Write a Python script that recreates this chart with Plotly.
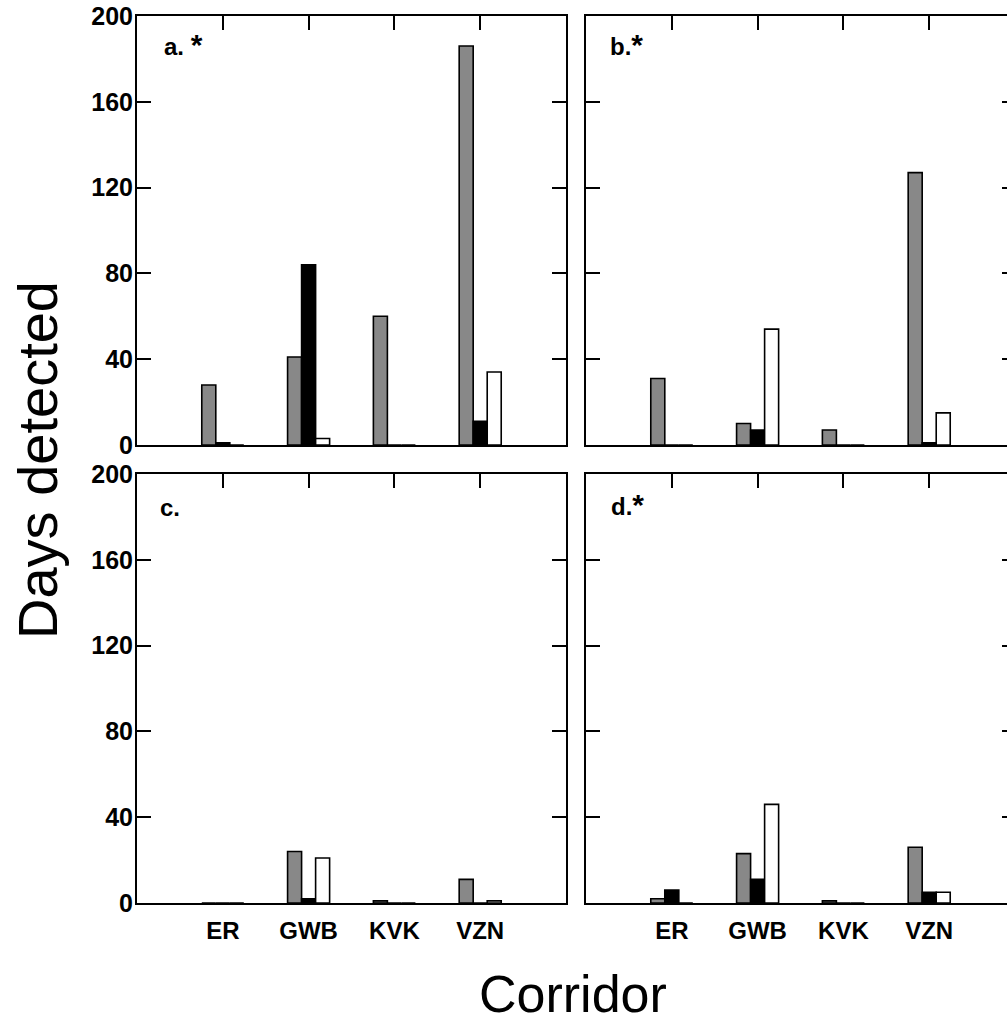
import plotly.graph_objects as go

# ---------------- data ----------------
categories = ["ER", "GWB", "KVK", "VZN"]
series_colors = ["#888888", "#000000", "#ffffff"]

a_gray = [28, 41, 60, 186]
a_black = [1, 84, 0, 11]
a_white = [0, 3, 0, 34]

b_gray = [31, 10, 7, 127]
b_black = [0, 7, 0, 1]
b_white = [0, 54, 0, 15]

c_gray = [0, 24, 1, 11]
c_black = [0, 2, 0, 0]
c_white = [0, 21, 0, 1]

d_gray = [2, 23, 1, 26]
d_black = [6, 11, 0, 5]
d_white = [0, 46, 0, 5]

y_ticks = [0, 40, 80, 120, 160, 200]
panel_labels = ["a. <span style='font-size:30px'>*</span>",
                "b.<span style='font-size:30px'>*</span>",
                "c.",
                "d.<span style='font-size:30px'>*</span>"]

# ---------------- layout geometry (pixels) ----------------
W, H = 1007, 1022
def fx(p):
    return p / W
def fy(p):
    return 1 - p / H

FONT = "Liberation Sans, Arial, sans-serif"
unit_px = (566 - 137) / 5.0
right_end = -1 + (W - 586) / unit_px

panels = [
    dict(name="", data=(a_gray, a_black, a_white), xdom=[fx(137), fx(566)], ydom=[fy(445), fy(16)],
         xrange=[-1, 4], left=True, bottom=False, full=True),
    dict(name="2", data=(b_gray, b_black, b_white), xdom=[fx(586), 1.0], ydom=[fy(445), fy(16)],
         xrange=[-1, right_end], left=False, bottom=False, full=False),
    dict(name="3", data=(c_gray, c_black, c_white), xdom=[fx(137), fx(566)], ydom=[fy(903), fy(474)],
         xrange=[-1, 4], left=True, bottom=True, full=True),
    dict(name="4", data=(d_gray, d_black, d_white), xdom=[fx(586), 1.0], ydom=[fy(903), fy(474)],
         xrange=[-1, right_end], left=False, bottom=True, full=False),
]

fig = go.Figure()
layout = dict(
    width=W, height=H, autosize=False,
    margin=dict(l=0, r=0, t=0, b=0, pad=0),
    paper_bgcolor="white", plot_bgcolor="white",
    showlegend=False, barmode="group", bargap=0.51, bargroupgap=0,
    font=dict(family=FONT, color="black"),
)

annotations = []
for i, p in enumerate(panels):
    n = p["name"]
    xa = "x" + n
    ya = "y" + n
    for vals, col in zip(p["data"], series_colors):
        fig.add_trace(go.Bar(
            x=categories, y=vals, xaxis=xa, yaxis=ya,
            marker=dict(color=col, line=dict(color="black", width=1.6)),
            hoverinfo="skip",
        ))
    # overlay axes for top ticks and right ticks
    on = str(5 + i)
    fig.add_trace(go.Scatter(x=[None], y=[None], xaxis="x" + on, yaxis="y" + on,
                             mode="markers", showlegend=False, hoverinfo="skip"))

    layout["xaxis" + n] = dict(
        domain=p["xdom"], anchor=ya, range=p["xrange"], type="category",
        categoryorder="array", categoryarray=categories,
        showline=True, linecolor="black", linewidth=2, mirror=True,
        ticks="", showgrid=False, zeroline=False,
        showticklabels=p["bottom"],
        tickfont=dict(family=FONT, size=24, weight="bold", color="black"),
        ticklabelstandoff=5, fixedrange=True, automargin=False,
    )
    layout["yaxis" + n] = dict(
        domain=p["ydom"], anchor=xa, range=[0, 200],
        tickvals=y_ticks, ticks="inside", ticklen=14, tickwidth=2, tickcolor="black",
        showline=True, linecolor="black", linewidth=2, mirror=p["full"],
        showgrid=False, zeroline=False, showticklabels=p["left"],
        tickfont=dict(family=FONT, size=25, weight="bold", color="black"),
        ticklabelstandoff=-3, fixedrange=True, automargin=False,
    )
    layout["xaxis" + on] = dict(
        overlaying=xa, anchor=ya, side="top", range=p["xrange"],
        tickvals=[0, 1, 2, 3], ticks="inside", ticklen=14, tickwidth=2, tickcolor="black",
        showline=False, showgrid=False, zeroline=False, showticklabels=False,
        fixedrange=True, automargin=False,
    )
    ydict = dict(
        overlaying=ya, side="right", range=[0, 200],
        tickvals=y_ticks, ticks="inside", tickwidth=2, tickcolor="black",
        showline=False, showgrid=False, zeroline=False, showticklabels=False,
        fixedrange=True, automargin=False,
    )
    if p["full"]:
        ydict.update(anchor=xa, ticklen=14)
    else:
        ydict.update(anchor="free", position=1.0, ticklen=5)
    layout["yaxis" + on] = ydict

# panel labels
label_pos = [(162, 44), (608, 44), (158, 507), (609, 505)]
for lab, (px, py) in zip(panel_labels, label_pos):
    annotations.append(dict(
        text="<b>" + lab + "</b>", x=fx(px), y=fy(py), xref="paper", yref="paper",
        xanchor="left", yanchor="middle", showarrow=False,
        font=dict(family=FONT, size=24, color="black"),
    ))

annotations.append(dict(
    text="Days detected", x=fx(37), y=fy(460), xref="paper", yref="paper",
    xanchor="center", yanchor="middle", textangle=-90, showarrow=False,
    font=dict(family=FONT, size=56, color="black"),
))
annotations.append(dict(
    text="Corridor", x=fx(573), y=fy(994), xref="paper", yref="paper",
    xanchor="center", yanchor="middle", showarrow=False,
    font=dict(family=FONT, size=52, color="black"),
))
layout["annotations"] = annotations

fig.update_layout(**layout)
fig.write_html("out.html",
               config={"displayModeBar": False, "staticPlot": True},
               post_script="document.body.style.margin='0';document.body.style.padding='0';")
